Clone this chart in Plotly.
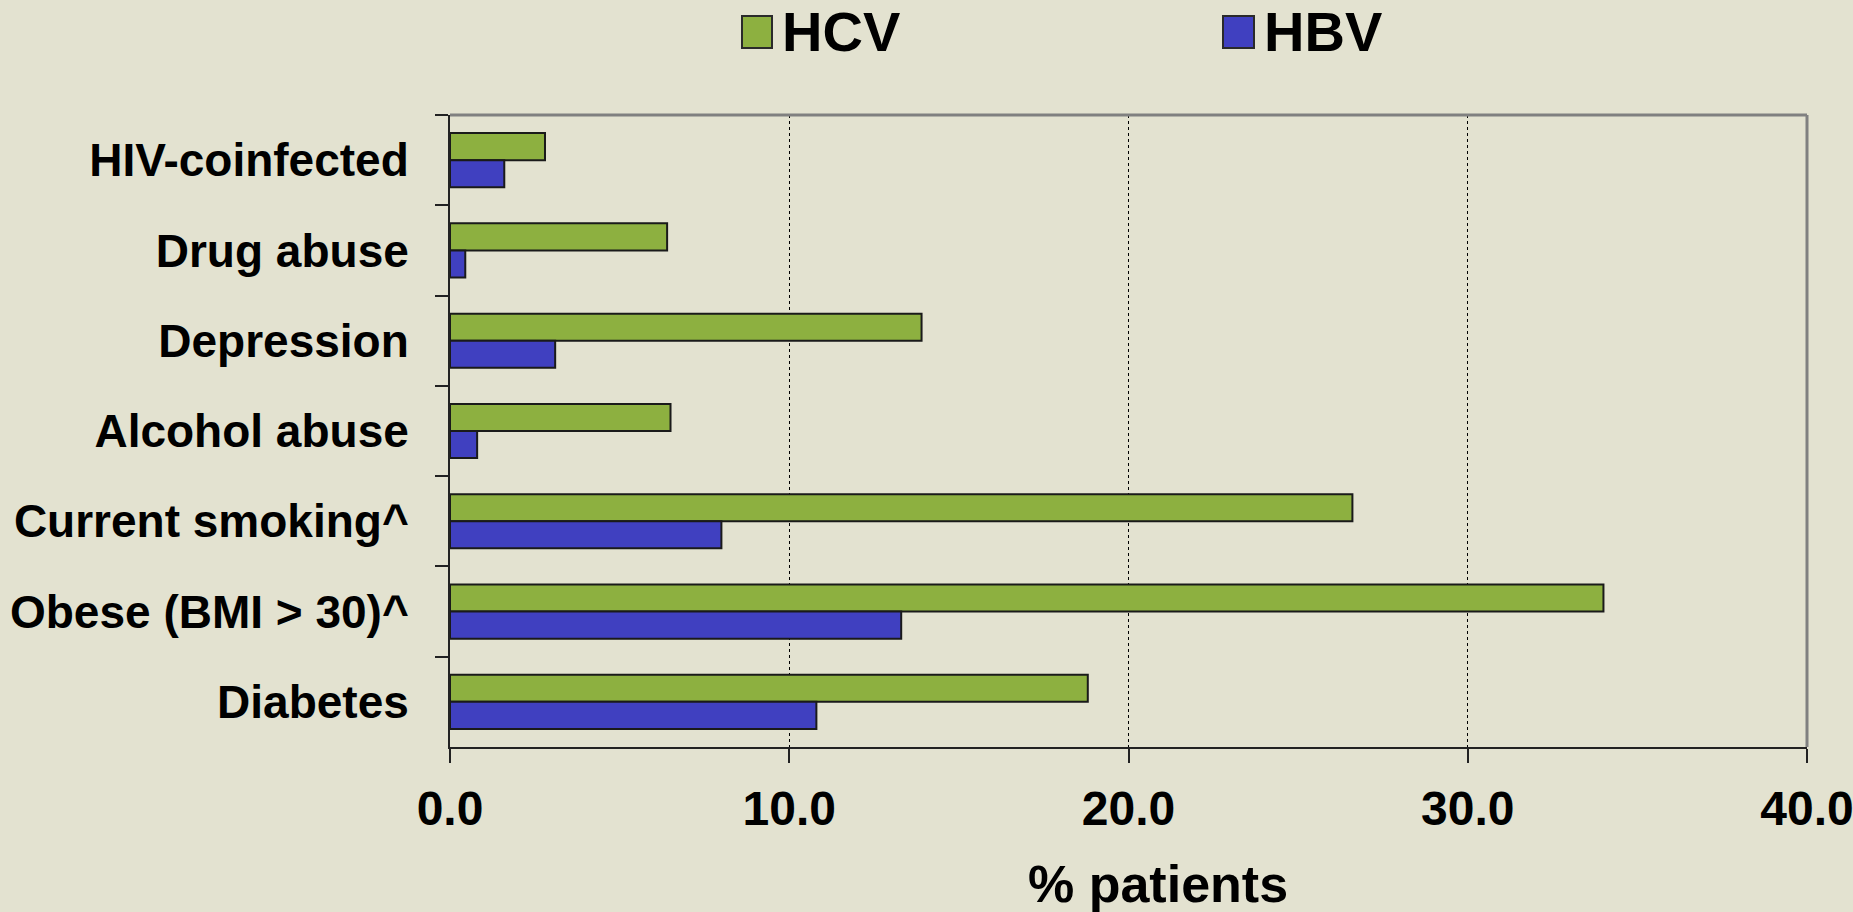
import plotly.graph_objects as go

categories = ["HIV-coinfected", "Drug abuse", "Depression", "Alcohol abuse",
              "Current smoking^", "Obese (BMI > 30)^", "Diabetes"]
hcv = [2.8, 6.4, 13.9, 6.5, 26.6, 34.0, 18.8]
hbv = [1.6, 0.45, 3.1, 0.8, 8.0, 13.3, 10.8]
x_ticks = [0, 10, 20, 30, 40]
x_tick_labels = ["0.0", "10.0", "20.0", "30.0", "40.0"]

BG = "#E3E2D0"
GREEN = "#8DB040"
BLUE = "#4040C0"
FONT = "Liberation Sans, Arial, sans-serif"

fig = go.Figure()
fig.add_trace(go.Bar(name="HCV", y=categories, x=hcv, orientation="h",
                     marker=dict(color=GREEN, line=dict(color="#1a1a1a", width=2))))
fig.add_trace(go.Bar(name="HBV", y=categories, x=hbv, orientation="h",
                     marker=dict(color=BLUE, line=dict(color="#1a1a1a", width=2))))

fig.update_layout(
    width=1853, height=912,
    paper_bgcolor=BG, plot_bgcolor=BG,
    margin=dict(l=450, r=46, t=115, b=165, autoexpand=False),
    barmode="group", bargap=0.4, bargroupgap=0,
    showlegend=False,
    font=dict(family=FONT, color="black"),
)
fig.update_xaxes(
    range=[0, 40], tickvals=x_ticks, ticktext=x_tick_labels,
    showgrid=True, gridcolor="black", gridwidth=1, griddash="dot",
    showline=True, linecolor="#222222", linewidth=2,
    ticks="outside", ticklen=14, tickwidth=2, tickcolor="#222222",
    tickfont=dict(size=48, family=FONT, weight="bold"),
    ticklabelstandoff=4, zeroline=False, ticklabeloverflow="allow",
)
fig.update_yaxes(
    autorange="reversed", type="category", tickson="boundaries",
    showline=True, linecolor="#222222", linewidth=2,
    ticks="outside", ticklen=13, tickwidth=2, tickcolor="#222222",
    tickfont=dict(size=46, family=FONT, weight="bold"),
    ticklabelstandoff=30, showgrid=False,
)

# top and right frame lines (grey)
fig.add_shape(type="line", xref="paper", yref="paper", x0=0, x1=1, y0=1, y1=1,
              line=dict(color="#808080", width=3))
fig.add_shape(type="line", xref="paper", yref="paper", x0=1, x1=1, y0=0, y1=1,
              line=dict(color="#808080", width=3))

# x-axis title
fig.add_annotation(text="% patients", xref="paper", yref="paper",
                   x=(1158 - 450) / 1357, y=(747 - 884) / 632,
                   xanchor="center", yanchor="middle", showarrow=False,
                   font=dict(size=52, family=FONT, weight="bold"))

# manual legend
fig.add_shape(type="rect", xref="paper", yref="paper",
              x0=(742 - 450) / 1357, x1=(772 - 450) / 1357,
              y0=(747 - 48) / 632, y1=(747 - 16) / 632,
              fillcolor=GREEN, line=dict(color="#2a2a2a", width=2))
fig.add_annotation(text="HCV", xref="paper", yref="paper",
                   x=(780 - 450) / 1357, y=(747 - 32) / 632,
                   xanchor="left", yanchor="middle", showarrow=False,
                   font=dict(size=56, family=FONT, weight="bold"))
fig.add_shape(type="rect", xref="paper", yref="paper",
              x0=(1223 - 450) / 1357, x1=(1254 - 450) / 1357,
              y0=(747 - 48) / 632, y1=(747 - 16) / 632,
              fillcolor=BLUE, line=dict(color="#2a2a2a", width=2))
fig.add_annotation(text="HBV", xref="paper", yref="paper",
                   x=(1262 - 450) / 1357, y=(747 - 32) / 632,
                   xanchor="left", yanchor="middle", showarrow=False,
                   font=dict(size=56, family=FONT, weight="bold"))

fig.write_html("out.html", config={"displayModeBar": False},
               post_script="document.body.style.margin='0';document.body.style.overflow='hidden';document.body.style.background='" + BG + "';")
